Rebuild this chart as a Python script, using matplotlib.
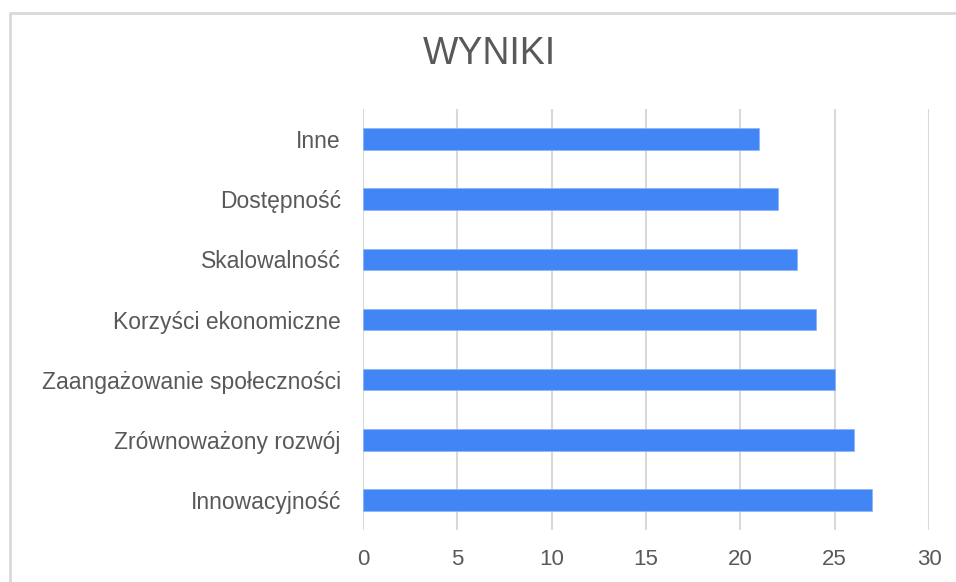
import matplotlib
matplotlib.use('Agg')
import matplotlib.pyplot as plt
from matplotlib.lines import Line2D

categories = ['Innowacyjność', 'Zrównoważony rozwój', 'Zaangażowanie społeczności',
              'Korzyści ekonomiczne', 'Skalowalność', 'Dostępność', 'Inne']
values = [27, 26, 25, 24, 23, 22, 21]
xticks = [0, 5, 10, 15, 20, 25, 30]

W, H = 956, 582
fig = plt.figure(figsize=(W / 100, H / 100), dpi=100)
plt.rcParams['font.family'] = ['Liberation Sans', 'DejaVu Sans']

ax = fig.add_axes([363 / W, 1 - 530 / H, (929 - 363) / W, (530 - 109) / H])
ypos = list(range(len(categories)))
ax.barh(ypos, values, height=0.36, color='#4285F4', edgecolor='#8ab4f8', linewidth=0.5, zorder=3)

ax.set_xlim(0, 30)
ax.set_ylim(-0.5, len(categories) - 0.5)
ax.set_xticks(xticks)
ax.set_xticklabels([str(t) for t in xticks])
ax.set_yticks(ypos)
ax.set_yticklabels(categories)
ax.tick_params(axis='both', length=0, labelcolor='#595959')
ax.tick_params(axis='x', pad=14, labelsize=16)
ax.tick_params(axis='y', pad=16, labelsize=16.5)
ax.grid(axis='x', color='#d9d9d9', linewidth=1.5, zorder=0)
ax.grid(axis='y', visible=False)
for s in ax.spines.values():
    s.set_visible(False)

fig.text(489 / W, 1 - 54 / H, 'WYNIKI', ha='center', va='center', fontsize=27,
         color='#595959')

# outer chart frame (top and left edges visible)
fig.add_artist(Line2D([10 / W, 10 / W, 1], [0, 1 - 13 / H, 1 - 13 / H],
                      transform=fig.transFigure, color='#d9d9d9', linewidth=2))

fig.savefig('out.png', dpi=100)
